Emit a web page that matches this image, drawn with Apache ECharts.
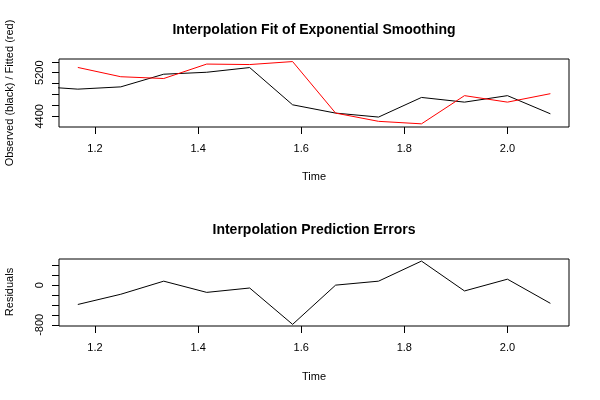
<!DOCTYPE html>
<html>
<head>
<meta charset="utf-8">
<script src="https://cdn.jsdelivr.net/npm/echarts@6/dist/echarts.min.js"></script>
<style>
html,body{margin:0;padding:0;background:#fff;}
#chart{width:600px;height:400px;}
</style>
</head>
<body>
<div id="chart"></div>
<script>
// Time points (monthly steps)
var timeObserved = [1.0833, 1.1667, 1.25, 1.3333, 1.4167, 1.5, 1.5833, 1.6667, 1.75, 1.8333, 1.9167, 2.0, 2.0833];
var observed = [4953, 4899, 4941, 5173, 5209, 5295, 4612, 4460, 4387, 4747, 4661, 4780, 4447];
var timeFitted = [1.1667, 1.25, 1.3333, 1.4167, 1.5, 1.5833, 1.6667, 1.75, 1.8333, 1.9167, 2.0, 2.0833];
var fitted = [5297, 5127, 5094, 5359, 5350, 5405, 4460, 4309, 4263, 4780, 4661, 4816];
var residuals = [-390, -184, 80, -146, -58, -791, 0, 80, 485, -117, 120, -367];

var xTicks = [1.2, 1.4, 1.6, 1.8, 2.0];
var yTicksTop = [4400, 4600, 4800, 5000, 5200, 5400];
var yLabelsTop = [4400, 5200];
var yTicksBottom = [-800, -600, -400, -200, 0, 200, 400];
var yLabelsBottom = [-800, 0];

var titleTop = 'Interpolation Fit of Exponential Smoothing';
var titleBottom = 'Interpolation Prediction Errors';
var yNameTop = 'Observed (black) / Fitted (red)';
var yNameBottom = 'Residuals';
var xName = 'Time';

function pairs(xs, ys) { return xs.map(function (x, i) { return [x, ys[i]]; }); }

var FONT = '"Liberation Sans", Arial, Helvetica, sans-serif';

function xAxisCfg(gridIndex) {
  return {
    type: 'value', gridIndex: gridIndex, min: 1.1302, max: 2.1194, position: 'bottom',
    axisLine: { show: false, onZero: false },
    splitLine: { show: false },
    axisTick: { show: true, length: 7, inside: false, customValues: xTicks, lineStyle: { color: '#000', width: 1 } },
    axisLabel: { show: true, margin: 16, customValues: xTicks, color: '#000', fontSize: 11, fontFamily: FONT,
      formatter: function (v) { return v.toFixed(1); } }
  };
}
function yAxisCfg(gridIndex, min, max, ticks, labels) {
  return {
    type: 'value', gridIndex: gridIndex, min: min, max: max, position: 'left',
    axisLine: { show: false, onZero: false },
    splitLine: { show: false },
    axisTick: { show: true, length: 7, inside: false, customValues: ticks, lineStyle: { color: '#000', width: 1 } },
    axisLabel: { show: true, margin: 14, rotate: 90, customValues: labels, color: '#000', fontSize: 11, fontFamily: FONT,
      formatter: function (v) { return String(v); } }
  };
}

var chart = echarts.init(document.getElementById('chart'), null, { renderer: 'canvas' });
chart.setOption({
  animation: false,
  backgroundColor: '#fff',
  grid: [
    { left: 59, top: 59, width: 510, height: 68, show: true, borderColor: '#000', borderWidth: 1, backgroundColor: 'transparent' },
    { left: 59, top: 259, width: 510, height: 67, show: true, borderColor: '#000', borderWidth: 1, backgroundColor: 'transparent' }
  ],
  xAxis: [xAxisCfg(0), xAxisCfg(1)],
  yAxis: [
    yAxisCfg(0, 4205, 5452, yTicksTop, yLabelsTop),
    yAxisCfg(1, -824, 527, yTicksBottom, yLabelsBottom)
  ],
  series: [
    { type: 'line', xAxisIndex: 0, yAxisIndex: 0, data: pairs(timeObserved, observed), symbol: 'none', clip: true,
      lineStyle: { color: '#000', width: 1 }, itemStyle: { color: '#000' } },
    { type: 'line', xAxisIndex: 0, yAxisIndex: 0, data: pairs(timeFitted, fitted), symbol: 'none', clip: true,
      lineStyle: { color: '#ff0000', width: 1 }, itemStyle: { color: '#ff0000' } },
    { type: 'line', xAxisIndex: 1, yAxisIndex: 1, data: pairs(timeFitted, residuals), symbol: 'none', clip: true,
      lineStyle: { color: '#000', width: 1 }, itemStyle: { color: '#000' } }
  ],
  graphic: [
    { type: 'text', x: 314, y: 30, style: { text: titleTop, font: 'bold 14px ' + FONT, fill: '#000', align: 'center', verticalAlign: 'middle', textAlign: 'center', textVerticalAlign: 'middle' } },
    { type: 'text', x: 314, y: 230, style: { text: titleBottom, font: 'bold 14px ' + FONT, fill: '#000', align: 'center', verticalAlign: 'middle', textAlign: 'center', textVerticalAlign: 'middle' } },
    { type: 'text', x: 314, y: 177, style: { text: xName, font: '11px ' + FONT, fill: '#000', align: 'center', verticalAlign: 'middle', textAlign: 'center', textVerticalAlign: 'middle' } },
    { type: 'text', x: 314, y: 377, style: { text: xName, font: '11px ' + FONT, fill: '#000', align: 'center', verticalAlign: 'middle', textAlign: 'center', textVerticalAlign: 'middle' } },
    { type: 'text', x: 10, y: 93, rotation: Math.PI / 2, style: { text: yNameTop, font: '11px ' + FONT, fill: '#000', align: 'center', verticalAlign: 'middle', textAlign: 'center', textVerticalAlign: 'middle' } },
    { type: 'text', x: 10, y: 292, rotation: Math.PI / 2, style: { text: yNameBottom, font: '11px ' + FONT, fill: '#000', align: 'center', verticalAlign: 'middle', textAlign: 'center', textVerticalAlign: 'middle' } }
  ]
});
</script>
</body>
</html>
